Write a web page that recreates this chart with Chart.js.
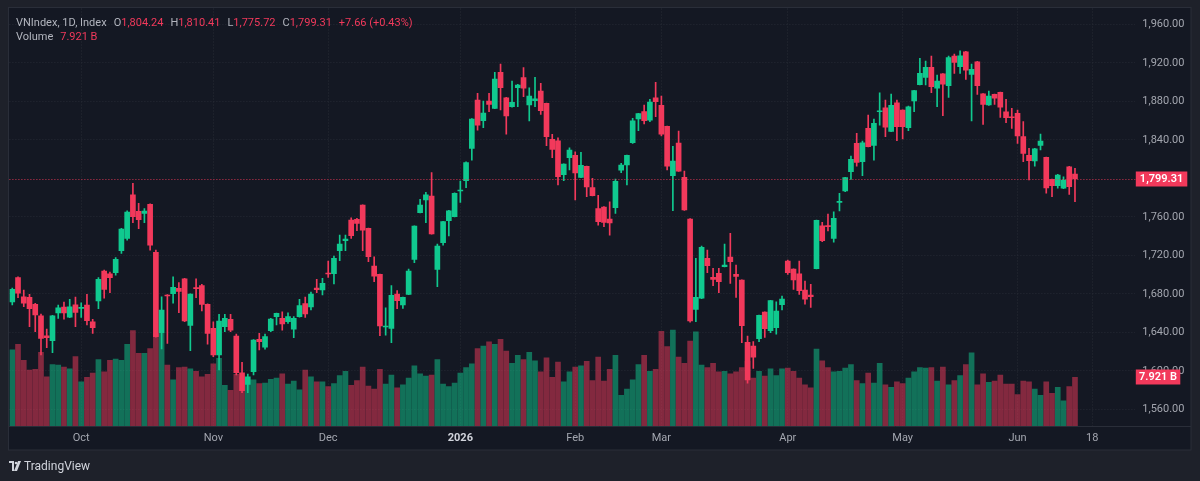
<!DOCTYPE html>
<html><head><meta charset="utf-8">
<script src="https://cdn.jsdelivr.net/npm/chart.js@4.4.1/dist/chart.umd.min.js"></script>
<style>
html,body{margin:0;padding:0;background:#1e212a;width:1200px;height:481px;overflow:hidden;font-family:Roboto,"Liberation Sans",sans-serif}
#wrap{position:relative;width:1200px;height:481px}
#c{position:absolute;left:0;top:0}
#legend{position:absolute;left:16px;top:16px;font-size:11px;line-height:14px;color:#b2b5be;white-space:nowrap;z-index:2}
#legend .v{color:#f2395b}
#legend .g{margin-left:7px}
#tv{position:absolute;left:9px;top:459px;height:14px;display:flex;align-items:center;color:#d1d4dc;font-size:12px;z-index:2}
#tv svg{margin-right:3px}
</style></head>
<body><div id="wrap">
<canvas id="c" width="1200" height="481"></canvas>
<div id="legend">
<div>VNIndex, 1D, Index<span class="g">O<span class="v">1,804.24</span></span><span class="g">H<span class="v">1,810.41</span></span><span class="g">L<span class="v">1,775.72</span></span><span class="g">C<span class="v">1,799.31</span></span><span class="g v">+7.66 (+0.43%)</span></div>
<div>Volume<span class="g v">7.921 B</span></div>
</div>
<div id="tv"><svg width="12" height="10" viewBox="0 0 12 10"><path d="M0 0h5v10H3V2H0z" fill="#d1d4dc"/><circle cx="7" cy="2" r="1.3" fill="#d1d4dc"/><path d="M9 0h3l-4 10H5z" fill="#d1d4dc"/></svg>TradingView</div>
</div>
<script>
// ---- data ----
const tradingDays = {
  '2025-09': [15,16,17,18,19,22,23,24,25,26,29,30],
  '2025-10': [1,2,3,6,7,8,9,10,13,14,15,16,17,20,21,22,23,24,27,28,29,30,31],
  '2025-11': [3,4,5,6,7,10,11,12,13,14,17,18,19,20,21,24,25,26,27,28],
  '2025-12': [1,2,3,4,5,8,9,10,11,12,15,16,17,18,19,22,23,24,25,26,29,30,31],
  '2026-01': [5,6,7,8,9,12,13,14,15,16,19,20,21,22,23,26,27,28,29,30],
  '2026-02': [2,3,4,5,6,9,10,11,12,13,23,24,25,26,27],
  '2026-03': [2,3,4,5,6,9,10,11,12,13,16,17,18,19,20,23,24,25,26,27,30,31],
  '2026-04': [1,2,3,6,7,8,9,10,13,14,15,16,17,20,21,22,23,24,28,29],
  '2026-05': [4,5,6,7,8,11,12,13,14,15,18,19,20,21,22,25,26,27,28,29],
  '2026-06': [1,2,3,4,5,8,9,10,11,12,15]
};
const futureDates = ['2026-06-16','2026-06-17','2026-06-18','2026-06-19','2026-06-22','2026-06-23','2026-06-24','2026-06-25','2026-06-26','2026-06-29'];

const opens = [
1671.4,1696.7,1676.9,1676.3,1669.0,1657.2,1636.4,1631.2,1660.0,1666.2,
1655.8,1668.6,1664.9,1668.3,1650.9,1672.5,1703.6,1700.8,1701.9,1724.7,
1737.6,1782.9,1765.7,1763.6,1772.9,1723.1,1639.5,1678.7,1680.0,1685.7,
1695.6,1647.2,1686.3,1688.4,1669.0,1644.1,1616.4,1645.8,1653.5,1636.1,
1597.9,1585.9,1599.0,1632.7,1624.4,1641.6,1656.2,1654.5,1650.9,1643.1,
1656.2,1669.7,1666.2,1686.0,1683.9,1701.2,1700.8,1724.7,1735.1,1756.6,
1757.3,1772.2,1748.0,1708.8,1700.2,1645.5,1644.1,1679.7,1668.3,1679.4,
1715.8,1764.2,1777.4,1781.6,1705.4,1733.0,1755.9,1760.0,1786.8,1797.4,
1831.1,1881.3,1859.8,1880.3,1872.7,1910.1,1883.7,1874.3,1894.1,1904.5,
1876.1,1880.6,1890.7,1877.9,1840.5,1839.0,1803.7,1821.4,1823.8,1801.0,
1812.4,1790.2,1768.4,1770.1,1757.7,1769.4,1808.3,1813.8,1836.9,1861.6,
1869.2,1860.5,1883.7,1875.8,1854.0,1802.7,1836.6,1801.0,1757.7,1663.8,
1675.3,1716.8,1697.1,1701.2,1708.1,1718.2,1700.2,1694.3,1629.5,1625.7,
1633.3,1661.0,1641.6,1644.7,1668.6,1714.0,1705.7,1700.8,1683.9,1678.7,
1706.0,1750.7,1750.7,1737.6,1775.0,1786.8,1806.8,1836.3,1817.2,1851.9,
1834.2,1869.1,1873.3,1848.8,1878.5,1870.9,1852.5,1880.3,1897.2,1904.9,
1915.3,1893.5,1908.6,1896.2,1927.0,1915.9,1931.5,1908.0,1921.1,1887.8,
1876.1,1887.2,1889.3,1869.1,1863.6,1867.5,1843.2,1823.8,1817.9,1834.2,
1821.8,1798.9,1792.3,1789.6,1812.0,1804.24];
const highs = [
1686.0,1697.5,1683.9,1679.4,1670.1,1659.0,1643.4,1657.5,1668.3,1671.4,
1674.2,1676.6,1670.7,1679.4,1653.5,1696.7,1704.7,1702.6,1717.5,1748.0,
1766.3,1794.8,1774.0,1768.4,1773.5,1725.4,1676.9,1679.2,1697.7,1691.5,
1696.0,1680.0,1695.6,1689.8,1669.5,1650.9,1658.6,1658.6,1658.6,1638.2,
1608.8,1596.6,1632.3,1638.9,1638.2,1654.5,1660.0,1661.3,1660.3,1656.2,
1674.2,1676.6,1681.8,1695.0,1696.0,1714.0,1719.2,1741.0,1741.0,1759.0,
1758.4,1772.5,1748.3,1718.5,1700.5,1665.5,1688.4,1683.2,1676.6,1705.7,
1750.7,1778.1,1785.4,1805.8,1731.7,1755.2,1766.6,1785.0,1797.1,1817.2,
1861.9,1888.3,1880.3,1888.3,1910.1,1918.7,1884.0,1901.0,1897.6,1914.9,
1894.1,1904.9,1898.7,1878.2,1845.7,1842.1,1815.0,1831.7,1827.6,1827.0,
1812.7,1799.9,1782.3,1770.5,1775.6,1799.2,1815.5,1824.2,1862.3,1867.4,
1876.1,1882.0,1899.7,1885.5,1854.3,1833.2,1849.1,1807.5,1758.0,1716.8,
1729.6,1725.4,1706.4,1706.4,1731.7,1742.8,1709.9,1694.6,1636.1,1630.2,
1657.9,1661.3,1673.1,1671.7,1677.7,1715.1,1706.0,1714.0,1693.2,1689.8,
1756.6,1754.2,1762.9,1765.2,1784.4,1800.9,1823.1,1846.7,1838.7,1865.7,
1861.6,1888.9,1881.3,1887.5,1881.3,1871.2,1875.1,1891.3,1924.6,1921.8,
1927.0,1907.3,1908.9,1927.0,1929.1,1932.5,1931.8,1918.7,1921.4,1888.1,
1890.7,1887.5,1889.6,1882.0,1872.7,1870.9,1858.8,1831.1,1831.0,1846.0,
1822.1,1799.2,1804.1,1801.6,1812.3,1810.41];
const lows = [
1668.3,1675.9,1666.5,1645.8,1640.6,1616.4,1623.9,1618.7,1654.5,1653.5,
1655.2,1645.8,1655.5,1647.5,1638.9,1664.5,1675.3,1681.1,1699.2,1722.0,
1735.8,1753.8,1747.6,1753.8,1725.4,1635.0,1622.6,1628.5,1670.1,1660.3,
1651.0,1620.8,1675.9,1662.1,1627.5,1614.6,1600.8,1640.6,1640.6,1595.6,
1577.2,1577.2,1595.6,1621.6,1622.3,1640.6,1647.5,1642.3,1649.3,1634.3,
1655.8,1655.5,1663.1,1681.1,1678.7,1697.1,1690.1,1714.3,1724.7,1737.6,
1745.5,1724.7,1713.3,1692.5,1636.4,1637.1,1629.1,1664.5,1664.9,1679.0,
1712.3,1764.0,1753.8,1741.8,1687.3,1730.6,1740.0,1759.8,1775.0,1790.2,
1818.8,1850.1,1852.5,1869.1,1872.4,1870.9,1845.7,1874.0,1874.3,1884.7,
1859.5,1874.3,1866.4,1833.8,1821.4,1793.0,1797.4,1808.6,1777.4,1800.7,
1780.8,1781.6,1751.4,1749.7,1741.0,1763.6,1805.8,1793.0,1836.3,1849.4,
1856.4,1858.8,1863.9,1843.9,1808.6,1766.3,1807.2,1766.7,1650.6,1651.0,
1675.0,1701.9,1688.4,1681.1,1707.8,1690.8,1676.3,1629.1,1587.0,1602.5,
1630.2,1634.7,1639.5,1637.9,1663.1,1700.2,1684.6,1679.4,1669.3,1665.9,
1705.7,1734.1,1745.2,1733.5,1766.0,1786.0,1798.9,1812.7,1802.7,1832.5,
1818.8,1855.3,1843.2,1848.5,1839.0,1840.8,1849.4,1869.1,1896.9,1896.9,
1888.9,1874.3,1865.0,1884.1,1909.0,1909.0,1902.8,1859.5,1887.2,1856.0,
1875.8,1876.8,1863.3,1857.7,1851.9,1836.3,1817.2,1798.2,1812.7,1829.4,
1784.4,1780.8,1789.6,1789.3,1783.3,1775.72];
const closes = [
1684.6,1680.5,1670.1,1664.5,1657.9,1633.7,1634.3,1657.2,1665.5,1660.0,
1666.5,1660.7,1665.5,1652.0,1644.7,1695.0,1684.6,1696.7,1715.8,1747.3,
1764.9,1760.0,1757.0,1766.0,1730.6,1635.4,1663.1,1677.7,1686.7,1682.5,
1651.7,1679.7,1685.2,1669.0,1638.9,1616.4,1651.7,1654.5,1642.3,1597.9,
1579.3,1593.8,1631.9,1630.2,1635.4,1653.8,1659.7,1648.6,1656.2,1654.5,
1667.6,1659.0,1679.7,1684.2,1690.8,1700.5,1716.8,1731.7,1736.9,1740.3,
1753.2,1746.2,1718.5,1698.4,1646.5,1645.8,1678.4,1672.8,1676.3,1703.6,
1750.4,1772.2,1782.9,1742.1,1729.6,1754.9,1766.3,1784.4,1787.8,1816.2,
1861.6,1855.3,1867.8,1876.8,1903.1,1894.1,1864.7,1878.9,1896.9,1893.5,
1885.5,1882.6,1870.2,1843.2,1830.1,1801.6,1814.8,1829.4,1805.5,1813.5,
1790.9,1781.9,1754.9,1754.2,1753.5,1796.8,1813.8,1823.8,1859.8,1867.1,
1859.8,1879.2,1879.5,1845.7,1812.7,1817.9,1807.5,1767.0,1651.7,1676.3,
1728.2,1709.1,1695.0,1692.5,1709.9,1713.3,1698.1,1646.8,1590.4,1614.0,
1657.6,1643.7,1672.8,1662.1,1674.5,1701.9,1694.3,1683.2,1674.5,1676.9,
1756.3,1735.1,1749.7,1758.4,1775.6,1800.6,1819.7,1816.6,1836.9,1832.8,
1857.1,1869.9,1853.0,1875.8,1853.6,1853.6,1874.3,1891.0,1909.0,1915.3,
1895.1,1901.0,1897.9,1925.3,1920.5,1927.3,1912.2,1913.2,1896.2,1876.8,
1885.5,1883.1,1874.0,1862.9,1862.9,1843.9,1825.9,1818.2,1830.7,1838.7,
1789.9,1792.3,1803.4,1798.2,1791.2,1799.31];
const volumesB = [
12.4,13.3,10.7,9.1,9.2,12.0,8.0,10.0,9.9,9.6,
9.3,11.3,7.2,7.9,8.6,10.8,8.8,10.7,10.9,10.7,
13.3,15.5,11.8,11.8,12.6,15.0,15.1,9.9,7.5,9.5,
9.6,9.3,8.9,8.0,8.4,10.1,11.0,6.6,5.8,8.4,
8.0,7.5,7.5,6.9,7.0,7.6,7.8,8.5,6.8,7.3,
5.9,9.1,8.0,7.2,7.2,6.4,6.9,8.2,8.9,6.6,
7.4,9.6,6.5,6.0,9.2,6.8,8.3,6.2,6.7,7.8,
9.8,8.5,8.1,8.3,10.8,6.8,6.4,7.0,8.6,9.5,
10.1,12.6,13.0,13.7,13.3,14.1,12.2,10.2,11.5,10.8,
12.0,10.6,8.8,11.1,7.9,10.4,7.2,8.8,9.6,9.8,
10.5,7.4,11.2,7.3,9.2,11.5,5.0,6.0,7.5,10.0,
11.5,8.9,9.2,15.4,12.9,15.6,11.2,10.2,13.8,15.3,
9.9,9.5,10.2,8.8,8.9,8.5,8.8,9.5,10.5,7.8,
8.9,8.1,9.3,8.2,9.3,9.4,8.9,7.8,6.7,6.2,
12.5,10.6,9.5,8.8,8.9,9.4,10.0,7.4,6.9,8.6,
7.0,10.2,6.7,6.3,7.2,6.9,7.8,8.8,9.5,9.4,
9.5,7.3,9.6,6.7,7.4,8.2,10.0,11.9,6.7,8.5,
7.1,7.3,8.3,6.8,6.8,5.1,7.3,7.2,6.0,5.0,
7.2,5.3,6.3,4.1,6.4,7.921];
const priceTicks = [1560,1600,1640,1680,1720,1760,1840,1880,1920,1960];
const timeTicks = [
  ['2025-10-01','Oct'],['2025-11-03','Nov'],['2025-12-01','Dec'],['2026-01-05','2026'],
  ['2026-02-02','Feb'],['2026-03-02','Mar'],['2026-04-01','Apr'],['2026-05-04','May'],
  ['2026-06-01','Jun'],['2026-06-18','18']];
const boldTick = '2026';

// ---- build ----
const dates = [];
for (const [m, days] of Object.entries(tradingDays)) days.forEach(d => dates.push(m + '-' + String(d).padStart(2,'0')));
const labels = dates.concat(futureDates);
const tickText = {};
timeTicks.forEach(([d,t]) => { tickText[labels.indexOf(d)] = t; });

const UP = '#10c98f', DOWN = '#f2395b';
const UP_V = 'rgba(16,201,143,0.5)', DOWN_V = 'rgba(242,57,91,0.5)';
const GRID = '#262a35';
const TXT = '#a3a6af';
const isUp = closes.map((c,i) => c >= opens[i]);
const last = closes.length - 1;
const lastUp = isUp[last];

const fmt = v => v.toLocaleString('en-US', {minimumFractionDigits:2, maximumFractionDigits:2});

const frame = {
  id: 'frame',
  beforeDraw(chart) {
    const ctx = chart.ctx;
    ctx.save();
    ctx.fillStyle = '#1e212a';
    ctx.fillRect(0, 0, 1200, 481);
    ctx.fillStyle = '#141823';
    ctx.fillRect(8.5, 8, 1182.5, 442);
    ctx.strokeStyle = '#2a2e39';
    ctx.lineWidth = 1;
    ctx.strokeRect(8.5, 7.5, 1182.5, 442.5);
    ctx.beginPath();
    ctx.moveTo(8.5, chart.chartArea.bottom + 0.5);
    ctx.lineTo(1191, chart.chartArea.bottom + 0.5);
    ctx.stroke();
    ctx.restore();
  },
  afterDatasetsDraw(chart) {
    const ctx = chart.ctx, a = chart.chartArea;
    const y = Math.round(chart.scales.y.getPixelForValue(closes[last])) + 0.5;
    ctx.save();
    ctx.strokeStyle = lastUp ? UP : DOWN;
    ctx.globalAlpha = 0.85;
    ctx.setLineDash([1, 2]);
    ctx.beginPath();
    ctx.moveTo(a.left, y);
    ctx.lineTo(a.right, y);
    ctx.stroke();
    ctx.restore();
  },
  afterDraw(chart) {
    const ctx = chart.ctx, a = chart.chartArea;
    const box = (val, text, w) => {
      const yy = Math.round(val);
      ctx.fillStyle = lastUp ? UP : DOWN;
      ctx.fillRect(a.right + 0.5, yy - 7.5, w, 15);
      ctx.fillStyle = '#ffffff';
      ctx.font = '600 11px Roboto, "Liberation Sans", sans-serif';
      ctx.textAlign = 'center';
      ctx.textBaseline = 'middle';
      ctx.fillText(text, a.right + 0.5 + w / 2, yy + 0.5);
    };
    ctx.save();
    box(chart.scales.y.getPixelForValue(closes[last]), fmt(closes[last]), 51.5);
    box(chart.scales.yv.getPixelForValue(volumesB[last]), volumesB[last].toFixed(3) + ' B', 44.5);
    ctx.restore();
  }
};

Chart.defaults.font.family = 'Roboto, "Liberation Sans", sans-serif';
Chart.defaults.font.size = 11;

new Chart(document.getElementById('c'), {
  type: 'bar',
  data: {
    labels,
    datasets: [
      { label: 'body', data: opens.map((o,i) => [o, closes[i]]), backgroundColor: isUp.map(u => u ? UP : DOWN),
        barThickness: 5, minBarLength: 1, yAxisID: 'y', order: 0 },
      { label: 'wick', data: lows.map((l,i) => [l, highs[i]]), backgroundColor: isUp.map(u => u ? UP : DOWN),
        barThickness: 1, yAxisID: 'y', order: 1 },
      { label: 'volume', data: volumesB, backgroundColor: isUp.map(u => u ? UP_V : DOWN_V),
        barThickness: 5, yAxisID: 'yv', order: 2 }
    ]
  },
  options: {
    responsive: false, animation: false, devicePixelRatio: 1,
    layout: { padding: { left: 9.4, right: 9, top: 8.5, bottom: 31 } },
    plugins: { legend: { display: false }, tooltip: { enabled: false } },
    datasets: { bar: { grouped: false, borderWidth: 0 } },
    scales: {
      x: {
        type: 'category', offset: true,
        grid: { color: GRID, offset: false, drawTicks: false },
        border: { display: false, dash: [1, 2] },
        ticks: {
          autoSkip: false, maxRotation: 0, padding: 6,
          callback: (v) => tickText[v] || '',
          color: (c) => (c.tick && tickText[c.tick.value] === boldTick) ? '#d1d4dc' : TXT,
          font: (c) => ({ size: 11, weight: (c.tick && tickText[c.tick.value] === boldTick) ? 'bold' : 'normal' })
        },
        afterBuildTicks: (s) => { s.ticks = timeTicks.map(([d]) => ({ value: labels.indexOf(d) })); },
        afterFit: (s) => { s.height = 24; s.paddingLeft = 0; s.paddingRight = 0; }
      },
      y: {
        position: 'right', min: 1542.6, max: 1976.4,
        grid: { color: GRID, drawTicks: false },
        border: { display: false, dash: [1, 2] },
        ticks: { padding: 7, color: TXT, font: { size: 11 }, callback: (v) => fmt(v) },
        afterBuildTicks: (s) => { s.ticks = priceTicks.map(v => ({ value: v })); },
        afterFit: (s) => { s.width = 55.7; s.paddingTop = 0; s.paddingBottom = 0; }
      },
      yv: { display: false, min: 0, max: 67.9 }
    }
  },
  plugins: [frame]
});
</script>
</body></html>
